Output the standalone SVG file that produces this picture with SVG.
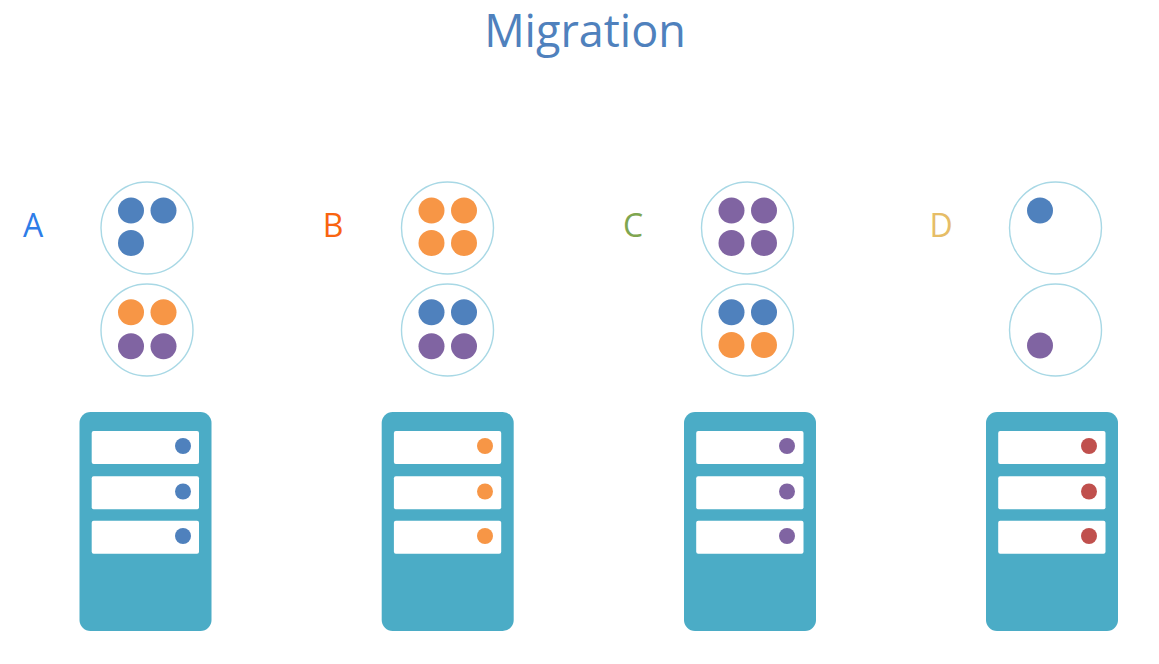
<svg xmlns="http://www.w3.org/2000/svg" width="1159" height="664" viewBox="0 0 1159 664">
<style>
text{font-family:"Open Sans","Noto Sans",sans-serif}
.t{font-size:45px;fill:#4f81bd;text-anchor:middle}
.l{font-size:32px;text-anchor:middle}
.c{fill:#fff;stroke:#a8d8e5;stroke-width:1.4}
.s{fill:#4bacc6}
.r{fill:#fff}
.b{fill:#4f81bd}.o{fill:#f79646}.p{fill:#8064a2}.e{fill:#c0504d}
</style>
<defs>
<g id="rack"><rect class="s" width="132" height="219" rx="11"/><rect class="r" x="12.200" y="19" width="107.300" height="33" rx="2"/><rect class="r" x="12.200" y="64.300" width="107.300" height="33" rx="2"/><rect class="r" x="12.200" y="108.800" width="107.300" height="33" rx="2"/></g>
</defs>
<rect width="1159" height="664" fill="#fff"/>
<text id="title" class="t" x="585" y="47">Migration</text>
<g id="nodeA"><text class="l" x="33" y="237" fill="#2e7de8">A</text>
<circle class="c" cx="147" cy="228" r="46"/><circle class="c" cx="147" cy="330" r="46"/>
<circle class="b" cx="131" cy="210.500" r="13"/><circle class="b" cx="163.500" cy="210.500" r="13"/><circle class="b" cx="131" cy="243" r="13"/>
<circle class="o" cx="131" cy="312.300" r="13"/><circle class="o" cx="163.500" cy="312.300" r="13"/><circle class="p" cx="131" cy="346.300" r="13"/><circle class="p" cx="163.500" cy="346.300" r="13"/>
<use href="#rack" x="79.500" y="412"/><circle class="b" cx="183" cy="446" r="8"/><circle class="b" cx="183" cy="491.500" r="8"/><circle class="b" cx="183" cy="536" r="8"/></g>
<g id="nodeB"><text class="l" x="333" y="237" fill="#f9640f">B</text>
<circle class="c" cx="447.500" cy="228" r="46"/><circle class="c" cx="447.500" cy="330" r="46"/>
<circle class="o" cx="431.500" cy="210.500" r="13"/><circle class="o" cx="464" cy="210.500" r="13"/><circle class="o" cx="431.500" cy="243" r="13"/><circle class="o" cx="464" cy="243" r="13"/>
<circle class="b" cx="431.500" cy="312.300" r="13"/><circle class="b" cx="464" cy="312.300" r="13"/><circle class="p" cx="431.500" cy="346.300" r="13"/><circle class="p" cx="464" cy="346.300" r="13"/>
<use href="#rack" x="381.700" y="412"/><circle class="o" cx="485" cy="446" r="8"/><circle class="o" cx="485" cy="491.500" r="8"/><circle class="o" cx="485" cy="536" r="8"/></g>
<g id="nodeC"><text class="l" x="633" y="237" fill="#7fa650">C</text>
<circle class="c" cx="747.500" cy="228" r="46"/><circle class="c" cx="747.500" cy="330" r="46"/>
<circle class="p" cx="731.500" cy="210.500" r="13"/><circle class="p" cx="764" cy="210.500" r="13"/><circle class="p" cx="731.500" cy="243" r="13"/><circle class="p" cx="764" cy="243" r="13"/>
<circle class="b" cx="731.500" cy="312.300" r="13"/><circle class="b" cx="764" cy="312.300" r="13"/><circle class="o" cx="731.500" cy="345" r="13"/><circle class="o" cx="764" cy="345" r="13"/>
<use href="#rack" x="684" y="412"/><circle class="p" cx="787" cy="446" r="8"/><circle class="p" cx="787" cy="491.500" r="8"/><circle class="p" cx="787" cy="536" r="8"/></g>
<g id="nodeD"><text class="l" x="941" y="237" fill="#e6bd67">D</text>
<circle class="c" cx="1055.500" cy="228" r="46"/><circle class="c" cx="1055.500" cy="330" r="46"/>
<circle class="b" cx="1040" cy="210.500" r="13"/><circle class="p" cx="1040" cy="345.500" r="13"/>
<use href="#rack" x="986" y="412"/><circle class="e" cx="1089" cy="446" r="8"/><circle class="e" cx="1089" cy="491.500" r="8"/><circle class="e" cx="1089" cy="536" r="8"/></g>
</svg>
